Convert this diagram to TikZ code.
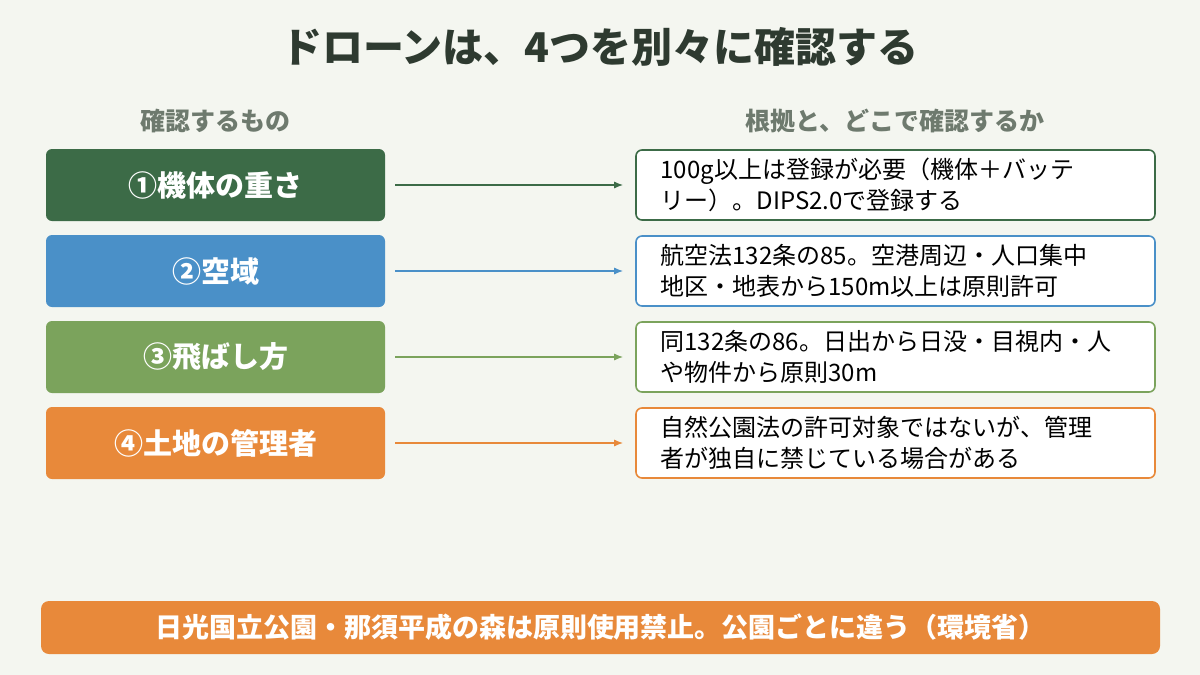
\documentclass[tikz,border=0pt]{standalone}
\usepackage{fontspec}
\usetikzlibrary{arrows.meta}
\setmainfont{Noto Sans CJK JP}
\definecolor{bg}{HTML}{F4F6F0}
\definecolor{cA}{HTML}{3C6B47}
\definecolor{cB}{HTML}{4A90C8}
\definecolor{cC}{HTML}{7BA35C}
\definecolor{cD}{HTML}{E8893A}
\definecolor{ttl}{HTML}{2E3A30}
\definecolor{hdr}{HTML}{6E7A6E}
\begin{document}
\begin{tikzpicture}[x=1pt,y=-1pt,
 lbox/.style={rounded corners=6pt,minimum width=339pt,minimum height=72pt,text=white,font=\fontsize{29}{34}\selectfont\bfseries,inner sep=0pt},
 rbox/.style={rounded corners=6pt,draw,line width=1.6pt,fill=white,minimum width=519pt,minimum height=70pt,text=black,font=\fontsize{24}{31}\selectfont,align=left,text width=470pt,inner sep=0pt},
 arr/.style={-{Latex[length=9pt,width=7pt]},line width=1.3pt}]
\fill[bg] (0,0) rectangle (1200,675);
\useasboundingbox (0,0) rectangle (1200,675);
\node[font=\fontsize{41}{46}\selectfont\bfseries,text=ttl] (title) at (600,47) {ドローンは、4つを別々に確認する};
\node[font=\fontsize{25}{28}\selectfont\bfseries,text=hdr] (h1) at (215,121) {確認するもの};
\node[font=\fontsize{25}{28}\selectfont\bfseries,text=hdr] (h2) at (895,121) {根拠と、どこで確認するか};
\foreach \i/\y/\c/\l/\r in {
 a/185/cA/{①機体の重さ}/{100g以上は登録が必要（機体＋バッテ\\リー）。DIPS2.0で登録する},
 b/271/cB/{②空域}/{航空法132条の85。空港周辺・人口集中\\地区・地表から150m以上は原則許可},
 c/357/cC/{③飛ばし方}/{同132条の86。日出から日没・目視内・人\\や物件から原則30m},
 d/443/cD/{④土地の管理者}/{自然公園法の許可対象ではないが、管理\\者が独自に禁じている場合がある}}{
 \node[lbox,fill=\c] (L\i) at (215.5,\y) {\l};
 \node[rbox,draw=\c] (R\i) at (895.5,\y) {\r};
 \draw[arr,draw=\c] ([xshift=10pt]L\i.east) -- ([xshift=-12pt]R\i.west);
}
\node[fill=cD,rounded corners=8pt,minimum width=1119pt,minimum height=53pt,text=white,font=\fontsize{27}{30}\selectfont\bfseries] (banner) at (600.5,627.5) {日光国立公園・那須平成の森は原則使用禁止。公園ごとに違う（環境省）};
\end{tikzpicture}
\end{document}
